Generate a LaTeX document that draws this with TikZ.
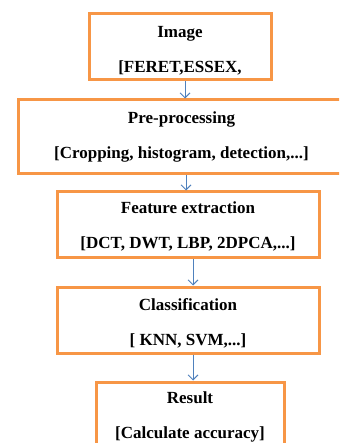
\documentclass[tikz,border=0pt]{standalone}
\usepackage{fontspec}
\setmainfont{Liberation Serif}
\usetikzlibrary{arrows.meta}
\definecolor{boxorange}{HTML}{F79646}
\definecolor{arrowblue}{HTML}{4F81BD}
\tikzset{
  stagebox/.style={draw=boxorange, line width=3pt, fill=white, inner sep=0pt, align=center,
    font=\bfseries\fontsize{17}{35}\selectfont},
  flowarrow/.style={draw=arrowblue, line width=0.9pt, -{Straight Barb[length=5pt,width=10pt]}}
}
\begin{document}
\begin{tikzpicture}[x=1pt,y=-1pt]
\useasboundingbox (0,0) rectangle (339,443);
\clip (0,0) rectangle (339,443);
\fill[white] (0,0) rectangle (339,443);
\node[stagebox, minimum width=182pt, minimum height=66pt] (img) at (180,47) {\rule{0pt}{19.5pt}Image\\{}[FERET,ESSEX,};
\node[stagebox, minimum width=327pt, minimum height=74pt] (pre) at (181.5,137) {Pre-processing\\{}[Cropping, histogram, detection,...]};
\node[stagebox, minimum width=262pt, minimum height=65pt] (feat) at (188,224.5) {\rule{0pt}{15pt}Feature extraction\\{}[DCT, DWT, LBP, 2DPCA,...]};
\node[stagebox, minimum width=262pt, minimum height=66pt] (cls) at (188,320) {\rule{0pt}{18pt}Classification\\{}[ KNN, SVM,...]};
\node[stagebox, minimum width=188pt, minimum height=70pt] (res) at (190,417) {Result\\{}[Calculate accuracy]};
\draw[flowarrow] (img.south -| 185,0) -- (pre.north -| 185,0);
\draw[flowarrow] (pre.south -| 186,0) -- (feat.north -| 186,0);
\draw[flowarrow] (feat.south -| 193,0) -- (cls.north -| 193,0);
\draw[flowarrow] (cls.south -| 193,0) -- (res.north -| 193,0);
\end{tikzpicture}
\end{document}
